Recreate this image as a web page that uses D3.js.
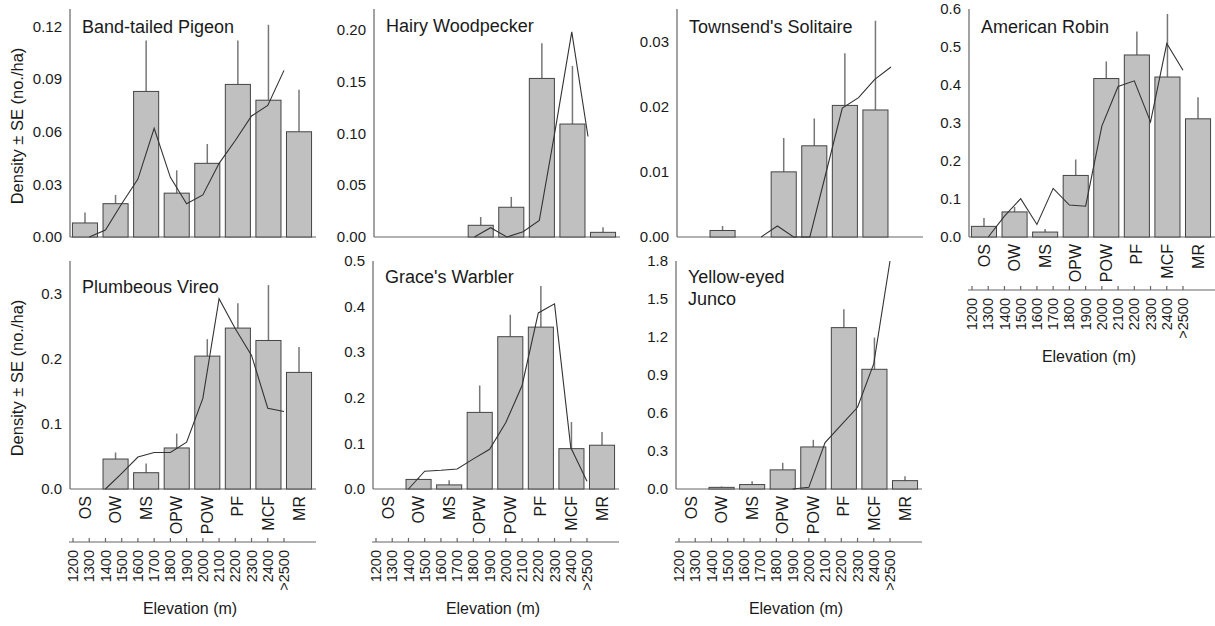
<!DOCTYPE html>
<html>
<head>
<meta charset="utf-8">
<script src="https://cdn.jsdelivr.net/npm/d3@7"></script>
<style>
  body { margin: 0; background: #fff; }
  svg text { font-family: "Liberation Sans", Arial, sans-serif; fill: #1a1a1a; }
</style>
</head>
<body>
<svg id="chart" width="1215" height="626"></svg>
<script>
const categories = ["OS", "OW", "MS", "OPW", "POW", "PF", "MCF", "MR"];
const elevLabels = ["1200","1300","1400","1500","1600","1700","1800","1900","2000","2100","2200","2300","2400",">2500"];

// bar density, SE, and the elevation line (one value per elevation label, null = not drawn)
const pigeonBars = [0.008, 0.019, 0.083, 0.025, 0.042, 0.087, 0.078, 0.060];
const pigeonSE   = [0.006, 0.005, 0.029, 0.013, 0.011, 0.025, 0.043, 0.024];
const pigeonLine = [null, 0, 0.004, 0.019, 0.033, 0.062, 0.034, 0.019, 0.024, 0.042, 0.055, 0.069, 0.075, 0.095];

const woodpeckerBars = [0, 0, 0, 0.0113, 0.0287, 0.153, 0.109, 0.0045];
const woodpeckerSE   = [0, 0, 0, 0.008, 0.010, 0.034, 0.056, 0.005];
const woodpeckerLine = [null, null, null, null, null, null, 0, 0.009, 0, 0.005, 0.016, 0.105, 0.198, 0.097];

const solitaireBars = [0, 0.001, 0, 0.0100, 0.0140, 0.0202, 0.0195, 0];
const solitaireSE   = [0, 0.0007, 0, 0.0052, 0.0042, 0.0080, 0.0137, 0];
const solitaireLine = [null, null, null, null, null, 0, 0.0017, 0, 0, 0.0099, 0.0198, 0.0214, 0.0242, 0.0261];

const robinBars = [0.028, 0.066, 0.013, 0.162, 0.417, 0.479, 0.421, 0.311];
const robinSE   = [0.022, 0.013, 0.008, 0.042, 0.045, 0.062, 0.166, 0.057];
const robinLine = [null, 0, 0.055, 0.101, 0.033, 0.128, 0.084, 0.081, 0.292, 0.396, 0.411, 0.303, 0.509, 0.439];

const vireoBars = [0, 0.046, 0.025, 0.063, 0.204, 0.247, 0.228, 0.179];
const vireoSE   = [0, 0.010, 0.014, 0.022, 0.026, 0.038, 0.085, 0.039];
const vireoLine = [null, null, 0, 0.024, 0.049, 0.056, 0.056, 0.072, 0.139, 0.292, 0.246, 0.205, 0.124, 0.119];

const warblerBars = [0, 0.021, 0.009, 0.168, 0.334, 0.355, 0.0885, 0.096];
const warblerSE   = [0, 0.003, 0.010, 0.059, 0.048, 0.090, 0.0585, 0.029];
const warblerLine = [null, null, 0, 0.039, 0.041, 0.044, 0.066, 0.087, 0.146, 0.227, 0.386, 0.406, 0.091, 0.017];

const juncoBars = [0, 0.013, 0.035, 0.151, 0.332, 1.274, 0.945, 0.066];
const juncoSE   = [0, 0.007, 0.026, 0.056, 0.056, 0.146, 0.250, 0.034];
const juncoLine = [null, null, null, null, null, null, null, 0, 0.013, 0.366, 0.507, 0.645, 0.99, 1.8];

const panels = [
  { title: ["Band-tailed Pigeon"], bars: pigeonBars, se: pigeonSE, line: pigeonLine, max: 0.13, ticks: [0, 0.03, 0.06, 0.09, 0.12], fmt: ".2f",
    x0: 70, base: 237, titleY: 33, yLabel: true, xAxes: false },
  { title: ["Hairy Woodpecker"], bars: woodpeckerBars, se: woodpeckerSE, line: woodpeckerLine, max: 0.22, ticks: [0, 0.05, 0.10, 0.15, 0.20], fmt: ".2f",
    x0: 374, base: 237, titleY: 32, xAxes: false },
  { title: ["Townsend's Solitaire"], bars: solitaireBars, se: solitaireSE, line: solitaireLine, max: 0.035, ticks: [0, 0.01, 0.02, 0.03], fmt: ".2f",
    x0: 677, base: 237, titleY: 33, xAxes: false },
  { title: ["American Robin"], bars: robinBars, se: robinSE, line: robinLine, max: 0.6, ticks: [0, 0.1, 0.2, 0.3, 0.4, 0.5, 0.6], fmt: ".1f",
    x0: 969, base: 237, titleY: 33, xAxes: true },
  { title: ["Plumbeous Vireo"], bars: vireoBars, se: vireoSE, line: vireoLine, max: 0.35, ticks: [0, 0.1, 0.2, 0.3], fmt: ".1f",
    x0: 70, base: 489, titleY: 293, yLabel: true, xAxes: true },
  { title: ["Grace's Warbler"], bars: warblerBars, se: warblerSE, line: warblerLine, max: 0.5, ticks: [0, 0.1, 0.2, 0.3, 0.4, 0.5], fmt: ".1f",
    x0: 373, base: 489, titleY: 283, xAxes: true },
  { title: ["Yellow-eyed", "Junco"], bars: juncoBars, se: juncoSE, line: juncoLine, max: 1.8, ticks: [0, 0.3, 0.6, 0.9, 1.2, 1.5, 1.8], fmt: ".1f",
    x0: 676, base: 489, titleY: 283, xAxes: true }
];

const svg = d3.select("#chart");
const plotH = 228, plotW = 244;

panels.forEach(p => {
  const g = svg.append("g");
  const x = d3.scaleBand().domain(categories).range([p.x0, p.x0 + plotW]).paddingInner(0.18).paddingOuter(0.08);
  const xe = d3.scalePoint().domain(elevLabels).range([p.x0 + 3, p.x0 + 214]);
  const y = d3.scaleLinear().domain([0, p.max]).range([p.base, p.base - plotH]);

  // axes
  g.append("line").attr("x1", p.x0).attr("x2", p.x0).attr("y1", p.base).attr("y2", p.base - plotH)
    .attr("stroke", "#666").attr("stroke-width", 1.2);
  g.append("line").attr("x1", p.x0).attr("x2", p.x0 + 246).attr("y1", p.base).attr("y2", p.base)
    .attr("stroke", "#666").attr("stroke-width", 1.2);
  g.selectAll(".yt").data(p.ticks).enter().append("text")
    .attr("x", p.x0 - 8).attr("y", d => y(d)).attr("dy", "0.35em")
    .attr("text-anchor", "end").style("font-size", "15px")
    .text(d => d3.format(p.fmt)(d));

  // bars + SE
  const data = categories.map((c, i) => ({ c, v: p.bars[i], se: p.se[i] }));
  g.selectAll(".err").data(data.filter(d => d.v > 0)).enter().append("line")
    .attr("x1", d => x(d.c) + x.bandwidth() / 2).attr("x2", d => x(d.c) + x.bandwidth() / 2)
    .attr("y1", d => y(d.v)).attr("y2", d => y(d.v + d.se))
    .attr("stroke", "#777").attr("stroke-width", 1.5);
  g.selectAll(".bar").data(data.filter(d => d.v > 0)).enter().append("rect")
    .attr("x", d => x(d.c)).attr("width", x.bandwidth())
    .attr("y", d => y(d.v)).attr("height", d => p.base - y(d.v))
    .attr("fill", "#c0c0c0").attr("stroke", "#444").attr("stroke-width", 1);

  // elevation line
  const pts = elevLabels.map((e, i) => ({ e, v: p.line[i] }));
  g.append("path").datum(pts)
    .attr("d", d3.line().defined(d => d.v !== null).x(d => xe(d.e)).y(d => y(d.v)))
    .attr("fill", "none").attr("stroke", "#333").attr("stroke-width", 1.1);

  p.title.forEach((t, i) => {
    g.append("text").attr("x", p.x0 + 12).attr("y", p.titleY + i * 22)
      .style("font-size", "18px").text(t);
  });

  if (p.yLabel) {
    g.append("text").attr("transform", `translate(17,${p.base - plotH / 2 + 3}) rotate(-90)`)
      .attr("text-anchor", "middle").attr("dy", "0.35em").style("font-size", "16.5px")
      .text("Density ± SE (no./ha)");
  }

  if (p.xAxes) {
    g.selectAll(".cat").data(categories).enter().append("text")
      .attr("transform", d => `translate(${x(d) + x.bandwidth() / 2},${p.base + 7}) rotate(-90)`)
      .attr("text-anchor", "end").attr("dy", "0.35em").style("font-size", "16px")
      .text(d => d);

    const ay = p.base + 53;
    g.append("line").attr("x1", p.x0 - 1).attr("x2", p.x0 + 246).attr("y1", ay).attr("y2", ay)
      .attr("stroke", "#666").attr("stroke-width", 1.2);
    g.selectAll(".et").data(elevLabels).enter().append("line")
      .attr("x1", d => xe(d)).attr("x2", d => xe(d)).attr("y1", ay).attr("y2", ay - 4)
      .attr("stroke", "#666").attr("stroke-width", 1.2);
    g.selectAll(".el").data(elevLabels).enter().append("text")
      .attr("transform", d => `translate(${xe(d)},${ay + 8}) rotate(-90)`)
      .attr("text-anchor", "end").attr("dy", "0.35em").style("font-size", "14.5px")
      .text(d => d);
    g.append("text").attr("x", p.x0 + 120).attr("y", ay + 72)
      .attr("text-anchor", "middle").style("font-size", "16px").text("Elevation (m)");
  }
});
</script>
</body>
</html>
